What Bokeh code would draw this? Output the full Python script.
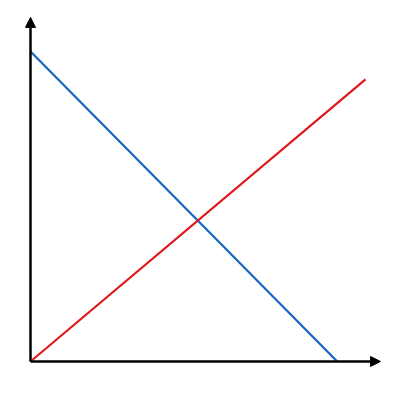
from bokeh.plotting import figure
from bokeh.models import Range1d, Arrow, NormalHead
from bokeh.embed import file_html
from bokeh.resources import INLINE

# data
blue_x = [0, 10]
blue_y = [10, 0]
red_x = [0, 10.92]
red_y = [0, 9.1]

p = figure(width=384, height=384, output_backend="svg", toolbar_location=None,
           x_range=Range1d(-0.978, 11.54), y_range=Range1d(-0.742, 11.645),
           min_border=0, min_border_left=0, min_border_right=0,
           min_border_top=0, min_border_bottom=0)
p.axis.visible = False
p.grid.visible = False
p.outline_line_color = None
p.background_fill_color = "white"

p.line(blue_x, blue_y, line_color="#1565c0", line_width=2.2)
p.line(red_x, red_y, line_color="#e0181b", line_width=2.2)

p.add_layout(Arrow(end=NormalHead(size=10, fill_color="black", line_color="black"),
                   x_start=0, y_start=0, x_end=11.41, y_end=0,
                   line_color="black", line_width=2.5))
p.add_layout(Arrow(end=NormalHead(size=10, fill_color="black", line_color="black"),
                   x_start=0, y_start=0, x_end=0, y_end=11.1,
                   line_color="black", line_width=2.5))

open("out.html", "w").write(file_html(p, INLINE))
